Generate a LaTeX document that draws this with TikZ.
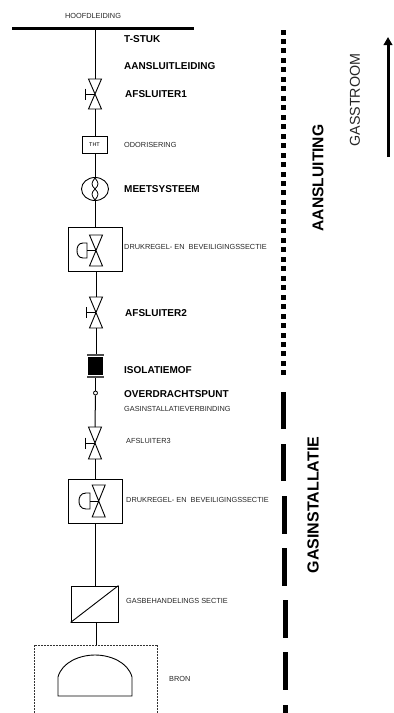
\documentclass[tikz,border=0pt]{standalone}
\usepackage{fontspec}
\setmainfont{Liberation Sans}
\usetikzlibrary{arrows.meta,shapes.geometric}
\newcommand{\fs}[1]{\fontsize{#1}{#1}\selectfont}
\tikzset{
  pipe/.style={draw=black,line width=1pt},
  sym/.style={draw=black,line width=0.9pt,fill=white},
  lab/.style={anchor=west,inner sep=0pt,text=black!85,font=\fs{7.35}},
  blab/.style={anchor=west,inner sep=0pt,text=black,font=\fs{10}\bfseries},
  dot/.style={fill=black,draw=none,minimum size=5pt,inner sep=0pt},
  longdash/.style={fill=black,draw=none,minimum width=5pt,minimum height=37.5pt,inner sep=0pt}
}
\begin{document}
\begin{tikzpicture}[x=1pt,y=-1pt]
\useasboundingbox (0,0) rectangle (394,713);
% main header
\draw[line width=3pt] (12,28) -- (194,28);
\coordinate (hdr) at (95,28);
\node[lab,anchor=center] (hl) at (93,15.5) {HOOFDLEIDING};
% symbols
\coordinate (v1t) at (95,79); \coordinate (v1b) at (95,109);
\node[draw,line width=0.9pt,minimum width=25pt,minimum height=17pt,inner sep=0pt,font=\fs{5.5}] (tht) at (94.5,145) {THT};
\node[draw,ellipse,line width=0.9pt,minimum width=27pt,minimum height=23pt,inner sep=0pt] (meter) at (95,189) {};
\node[draw,line width=0.9pt,minimum width=54pt,minimum height=44pt,inner sep=0pt] (reg1) at (95,249) {};
\coordinate (v2t) at (96,297); \coordinate (v2b) at (96,328);
\node[fill=black,minimum width=15pt,minimum height=18pt,inner sep=0pt] (iso) at (95.5,366) {};
\coordinate (isot) at (95.5,355); \coordinate (isob) at (95.5,377);
\node[draw,circle,line width=0.8pt,minimum size=4pt,inner sep=0pt,fill=white] (ovp) at (95.5,393) {};
\coordinate (v3t) at (95,427); \coordinate (v3b) at (95,459);
\node[draw,line width=0.9pt,minimum width=54pt,minimum height=44pt,inner sep=0pt] (reg2) at (95,501) {};
\node[draw,line width=0.9pt,minimum width=47pt,minimum height=36pt,inner sep=0pt] (beh) at (94.5,604) {};
\coordinate (dott) at (96.5,645);
% connectors
\draw[pipe] (hdr) -- (v1t);
\draw[pipe] (v1b) -- (tht.north -| v1b);
\draw[pipe] (tht.south -| meter) -- (meter.north);
\draw[pipe] (meter.south) -- (reg1.north);
\draw[pipe] (reg1.south -| v2t) -- (v2t);
\draw[pipe] (v2b) -- (isot -| v2b);
\draw[pipe] (isob) -- (ovp);
\draw[pipe] (ovp) -- (v3t);
\draw[pipe] (v3b) -- (reg2.north);
\draw[pipe] (reg2.south) -- (beh.north -| reg2.south);
\draw[pipe] (beh.south -| dott) -- (dott);
% manual valves
\foreach \cx/\ty/\by/\hx/\hw in {95/79/109/85/6.5, 96/297/328/86/6.5, 95/427/459/85/6.5}{
  \pgfmathsetmacro\my{(\ty+\by)/2}
  \draw[sym,fill=none] (\cx-\hw,\ty) -- (\cx+\hw,\ty) -- (\cx-\hw,\by) -- (\cx+\hw,\by) -- cycle;
  \draw[line width=0.9pt] (\hx,\my) -- (\cx,\my);
  \draw[line width=0.9pt] (\hx,\my-5.5) -- (\hx,\my+5.5);
}
% meter inner
\draw[line width=0.8pt] (95,178) .. controls (91,183) and (91,185) .. (95,189) .. controls (99,193) and (99,195) .. (95,200);
\draw[line width=0.8pt] (95,178) .. controls (99,183) and (99,185) .. (95,189) .. controls (91,193) and (91,195) .. (95,200);
% regulator valves
\foreach \cx/\ty/\by/\dl/\dr/\dh in {96/235/266/77/87/7.5, 98.7/485/517/79/90/8}{
  \pgfmathsetmacro\my{(\ty+\by)/2}
  \draw[line width=0.9pt] (\cx-6.5,\ty) -- (\cx+6.5,\ty) -- (\cx-6.5,\by) -- (\cx+6.5,\by) -- cycle;
  \draw[line width=0.9pt] (\dr,\my) -- (\cx,\my);
  \draw[line width=0.9pt] (\dr,\my-\dh) -- (\dr-4,\my-\dh) .. controls (\dl+1,\my-\dh) and (\dl,\my-3) .. (\dl,\my) .. controls (\dl,\my+3) and (\dl+1,\my+\dh) .. (\dr-4,\my+\dh) -- (\dr,\my+\dh) -- cycle;
}
% isolation flanges
\draw[line width=1.2pt,black!70] (87,355) -- (104,355);
\draw[line width=1.2pt,black!70] (87,377) -- (104,377);
% diagonal
\draw[line width=0.9pt] (beh.south west) -- (beh.north east);
% source
\draw[dash pattern=on 0.6pt off 0.9pt,line width=0.6pt,black!80] (34,713) -- (34,645) -- (157,645) -- (157,713);
\draw[line width=0.9pt] (58,696) -- (58,677) .. controls (62,662) and (80,655) .. (95,655) .. controls (110,655) and (128,662) .. (132,677) -- (132,696) -- cycle;
% labels
\node[blab] (l1) at (124,39) {T-STUK};
\node[blab] (l2) at (124,66) {AANSLUITLEIDING};
\node[blab] (l3) at (125,94) {AFSLUITER1};
\node[lab] (l4) at (124,145) {ODORISERING};
\node[blab] (l5) at (124,189) {MEETSYSTEEM};
\node[lab] (l6) at (124,247) {DRUKREGEL- EN \ BEVEILIGINGSSECTIE};
\node[blab] (l7) at (125,313) {AFSLUITER2};
\node[blab] (l8) at (124,370) {ISOLATIEMOF};
\node[blab] (l9) at (124,394) {OVERDRACHTSPUNT};
\node[lab] (l10) at (124,409) {GASINSTALLATIEVERBINDING};
\node[lab] (l11) at (126,441) {AFSLUITER3};
\node[lab] (l12) at (126,500) {DRUKREGEL- EN \ BEVEILIGINGSSECTIE};
\node[lab] (l13) at (126,601) {GASBEHANDELINGS SECTIE};
\node[lab] (l14) at (169,679) {BRON};
% separator
\foreach \i in {0,...,36}{
  \node[dot] at (283.5,32+9.47*\i) {};
}
\foreach \y/\x in {410.5/283.5, 462.5/283.5, 515/284, 567/284.5, 619/285, 671/285}{
  \node[longdash] at (\x,\y) {};
}
\fill (282.5,705) rectangle (287.5,713);
% side text
\node[rotate=90,inner sep=0pt,font=\fs{15.6}\bfseries] (aan) at (318,178) {AANSLUITING};
\node[rotate=90,inner sep=0pt,font=\fs{16}\bfseries] (gas) at (313,505) {GASINSTALLATIE};
\node[rotate=90,inner sep=0pt,font=\fs{14.3},text=black!85] (str) at (355,100) {GASSTROOM};
\coordinate (arrb) at (388,157); \coordinate (arrt) at (388,37);
\draw[line width=3pt,-{Triangle[length=8pt,width=8.5pt]}] (arrb) -- (arrt);
\end{tikzpicture}
\end{document}
